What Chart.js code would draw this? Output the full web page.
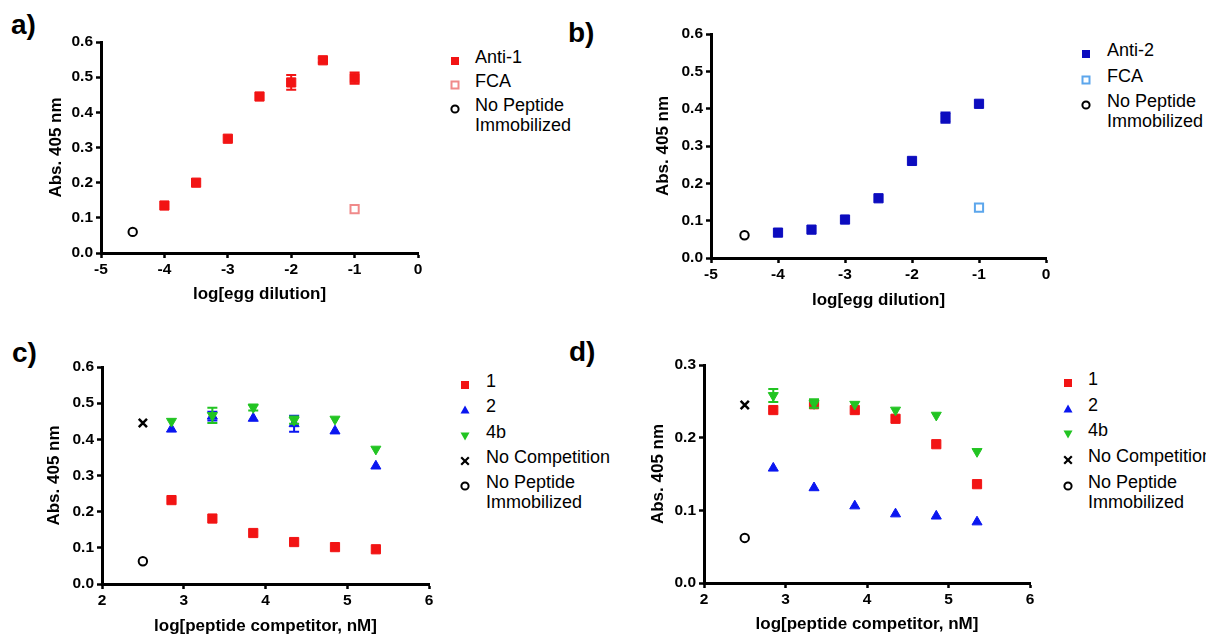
<!DOCTYPE html>
<html>
<head>
<meta charset="utf-8">
<script src="https://cdn.jsdelivr.net/npm/chart.js@4.4.1/dist/chart.umd.min.js"></script>
<style>
  body { margin: 0; background: #fff; }
  #page { position: relative; width: 1206px; height: 636px; overflow: hidden; font-family: "Liberation Sans", Arial, sans-serif; color: #000; }
  canvas { position: absolute; }
  .tag { position: absolute; font-size: 28px; font-weight: bold; line-height: 1; }
  .lg-mark { position: absolute; width: 10px; height: 10px; }
  .lg-text { position: absolute; font-size: 18px; line-height: 20px; white-space: nowrap; }
</style>
</head>
<body>
<div id="page">
  <div class="tag" style="left:11px; top:11px;">a)</div>
  <div class="tag" style="left:568px; top:19px;">b)</div>
  <div class="tag" style="left:12px; top:339px;">c)</div>
  <div class="tag" style="left:569px; top:338px;">d)</div>
  <canvas id="chartA"></canvas>
  <canvas id="chartB"></canvas>
  <canvas id="chartC"></canvas>
  <canvas id="chartD"></canvas>
</div>
<script>
// --- datos ---
const eggDilution = [-4, -3.5, -3, -2.5, -2, -1.5, -1];
const anti1 = [0.135, 0.200, 0.325, 0.445, 0.485, 0.548, 0.497];
const anti1Err = [0, 0, 0, 0, 0.021, 0.006, 0.016];
const anti2 = [0.068, 0.076, 0.103, 0.160, 0.260, 0.376, 0.413];
const anti2Err = [0, 0, 0, 0, 0, 0.014, 0];
const fcaX = [-1];
const fcaA = [0.125];
const fcaB = [0.135];
const noPeptideEggX = [-4.5];
const noPeptideA = [0.060];
const noPeptideB = [0.061];

const competitorLog = [2.85, 3.35, 3.85, 4.35, 4.85, 5.35];
const c1 = [0.232, 0.181, 0.141, 0.116, 0.102, 0.096];
const c2 = [0.428, 0.464, 0.458, 0.443, 0.423, 0.326];
const c2Err = [0, 0.012, 0, 0.022, 0, 0];
const c4b = [0.450, 0.466, 0.488, 0.453, 0.456, 0.373];
const c4bErr = [0, 0.021, 0.008, 0.010, 0, 0];
const noCompX = [2.5];
const cNoComp = [0.445];
const cNoPeptide = [0.063];

const d1 = [0.238, 0.246, 0.238, 0.226, 0.191, 0.136];
const d2 = [0.158, 0.131, 0.106, 0.095, 0.092, 0.084];
const d4b = [0.258, 0.247, 0.246, 0.238, 0.231, 0.181];
const d4bErr = [0.009, 0.006, 0, 0, 0, 0];
const dNoComp = [0.245];
const dNoPeptide = [0.062];

const eggTicks = [-5, -4, -3, -2, -1, 0];
const competitorTicks = [2, 3, 4, 5, 6];
const absTicks = [0, 0.1, 0.2, 0.3, 0.4, 0.5, 0.6];
const absTicksD = [0, 0.1, 0.2, 0.3];

// colores
const RED = '#f21414';
const RED_LIGHT = '#f08a8a';
const NAVY = '#0c0cbf';
const BLUE_LIGHT = '#5ca6ec';
const BLUE = '#0a16f0';
const GREEN = '#22c422';

const FONT = '"Liberation Sans", Arial, sans-serif';

// barras de error, dibujadas con las escalas del gráfico
const errorBars = {
  id: 'errorBars',
  afterDatasetDraw(chart, args) {
    const ds = chart.data.datasets[args.index];
    if (!ds.errors) return;
    const ctx = chart.ctx, sx = chart.scales.x, sy = chart.scales.y;
    ctx.save();
    ctx.strokeStyle = ds.pointBorderColor;
    ctx.lineWidth = 2;
    ds.data.forEach((p, i) => {
      const e = ds.errors[i];
      if (!e) return;
      const px = sx.getPixelForValue(p.x);
      const top = sy.getPixelForValue(p.y + e);
      const bot = sy.getPixelForValue(p.y - e);
      ctx.beginPath();
      ctx.moveTo(px, top); ctx.lineTo(px, bot);
      ctx.moveTo(px - 5, top); ctx.lineTo(px + 5, top);
      ctx.moveTo(px - 5, bot); ctx.lineTo(px + 5, bot);
      ctx.stroke();
    });
    ctx.restore();
  }
};

function series(label, xs, ys, shape, color, opts) {
  opts = opts || {};
  const filled = !opts.open;
  const ds = {
    label: label,
    data: xs.map((x, i) => ({ x: x, y: ys[i] })),
    showLine: false,
    pointStyle: shape,
    pointRadius: opts.r || 6.5,
    pointHoverRadius: opts.r || 6.5,
    pointRotation: opts.rot || 0,
    pointBackgroundColor: filled ? color : '#fff',
    pointBorderColor: color,
    pointBorderWidth: opts.bw || 1,
    order: opts.order || 0
  };
  if (opts.errors) ds.errors = opts.errors;
  return ds;
}

const noPeptideStyle = { open: true, r: 4.2, bw: 2 };
const crossStyle = { r: 5.8, bw: 2.5 };
const openSquare = { open: true, r: 5.8, bw: 2 };

function makeChart(id, box, datasets, xTicks, yTicks, xTitle) {
  const cv = document.getElementById(id);
  cv.width = box.w; cv.height = box.h;
  cv.style.left = box.left + 'px';
  cv.style.top = box.top + 'px';
  const tickFont = { family: FONT, size: 15.5, weight: 'bold' };
  const titleFont = { family: FONT, size: 17, weight: 'bold' };
  const grid = { display: true, drawOnChartArea: false, tickLength: 5, tickWidth: 2.5, tickColor: '#000' };
  const border = { display: true, color: '#000', width: 3 };
  new Chart(cv.getContext('2d'), {
    type: 'scatter',
    data: { datasets: datasets },
    options: {
      responsive: false,
      animation: false,
      events: [],
      layout: { padding: { left: box.padLeft, top: box.padTop, right: box.padRight, bottom: 0 } },
      plugins: { legend: { display: false }, tooltip: { enabled: false } },
      scales: {
        x: {
          type: 'linear',
          min: xTicks[0],
          max: xTicks[xTicks.length - 1],
          afterBuildTicks: s => { s.ticks = xTicks.map(v => ({ value: v })); },
          afterFit: s => { s.height = box.xH; },
          grid: grid,
          border: border,
          ticks: { color: '#000', font: tickFont, padding: 2, maxRotation: 0, callback: v => String(v) },
          title: { display: true, text: xTitle, color: '#000', padding: 0, font: titleFont }
        },
        y: {
          type: 'linear',
          min: yTicks[0],
          max: yTicks[yTicks.length - 1],
          afterBuildTicks: s => { s.ticks = yTicks.map(v => ({ value: v })); },
          afterFit: s => { s.width = box.yW; },
          grid: grid,
          border: border,
          ticks: { color: '#000', font: tickFont, padding: 3, callback: v => v.toFixed(1) },
          title: { display: true, text: 'Abs. 405 nm', color: '#000', padding: 0, font: titleFont }
        }
      }
    },
    plugins: [errorBars]
  });
}

// leyendas en HTML
function markerSvg(shape, color, open) {
  const fill = open ? '#fff' : color;
  let body = '';
  if (shape === 'rect') body = open
    ? `<rect x="1.5" y="1.5" width="7" height="7" fill="#fff" stroke="${color}" stroke-width="2"/>`
    : `<rect x="1" y="1" width="8" height="8" fill="${fill}"/>`;
  if (shape === 'up') body = `<polygon points="5,0.5 9.5,8.5 0.5,8.5" fill="${fill}"/>`;
  if (shape === 'down') body = `<polygon points="0.5,1.5 9.5,1.5 5,9.5" fill="${fill}"/>`;
  if (shape === 'cross') body = `<path d="M1.2,1.2 L8.8,8.8 M8.8,1.2 L1.2,8.8" stroke="${color}" stroke-width="2.2"/>`;
  if (shape === 'circle') body = `<circle cx="5" cy="5" r="3.6" fill="#fff" stroke="${color}" stroke-width="2"/>`;
  return `<svg width="10" height="10" viewBox="0 0 10 10">${body}</svg>`;
}

function makeLegend(pos, items) {
  const page = document.getElementById('page');
  items.forEach((it, i) => {
    const y = pos.y + i * pos.step;
    const m = document.createElement('div');
    m.className = 'lg-mark';
    m.style.left = (pos.mx - 5) + 'px';
    m.style.top = (y - 5) + 'px';
    m.innerHTML = markerSvg(it.shape, it.color, it.open);
    page.appendChild(m);
    const t = document.createElement('div');
    t.className = 'lg-text';
    t.style.left = pos.tx + 'px';
    t.style.top = (y - 10) + 'px';
    t.innerHTML = it.label.join('<br>');
    page.appendChild(t);
  });
}

// a)
makeChart('chartA', { left: 0, top: 0, w: 438, h: 305, padLeft: 46, padTop: 42, padRight: 20, yW: 55, xH: 52 }, [
  series('Anti-1', eggDilution, anti1, 'rect', RED, { errors: anti1Err }),
  series('FCA', fcaX, fcaA, 'rect', RED_LIGHT, openSquare),
  series('No Peptide Immobilized', noPeptideEggX, noPeptideA, 'circle', '#000', noPeptideStyle)
], eggTicks, absTicks, 'log[egg dilution]');

// b)
makeChart('chartB', { left: 640, top: 0, w: 426, h: 311, padLeft: 13, padTop: 34, padRight: 20, yW: 58, xH: 53 }, [
  series('Anti-2', eggDilution, anti2, 'rect', NAVY, { errors: anti2Err }),
  series('FCA', fcaX, fcaB, 'rect', BLUE_LIGHT, openSquare),
  series('No Peptide Immobilized', noPeptideEggX, noPeptideB, 'circle', '#000', noPeptideStyle)
], eggTicks, absTicks, 'log[egg dilution]');

// c)
makeChart('chartC', { left: 0, top: 320, w: 449, h: 317, padLeft: 44, padTop: 47, padRight: 20, yW: 58, xH: 53 }, [
  series('4b', competitorLog, c4b, 'triangle', GREEN, { r: 5.8, rot: 180, order: 1, errors: c4bErr }),
  series('2', competitorLog, c2, 'triangle', BLUE, { r: 5.8, order: 2, errors: c2Err }),
  series('1', competitorLog, c1, 'rect', RED, { order: 3 }),
  series('No Competition', noCompX, cNoComp, 'crossRot', '#000', crossStyle),
  series('No Peptide Immobilized', noCompX, cNoPeptide, 'circle', '#000', noPeptideStyle)
], competitorTicks, absTicks, 'log[peptide competitor, nM]');

// d)
makeChart('chartD', { left: 640, top: 320, w: 410, h: 315, padLeft: 8, padTop: 45, padRight: 20, yW: 56, xH: 52 }, [
  series('4b', competitorLog, d4b, 'triangle', GREEN, { r: 5.8, rot: 180, order: 1, errors: d4bErr }),
  series('1', competitorLog, d1, 'rect', RED, { order: 2 }),
  series('2', competitorLog, d2, 'triangle', BLUE, { r: 5.8, order: 3 }),
  series('No Competition', noCompX, dNoComp, 'crossRot', '#000', crossStyle),
  series('No Peptide Immobilized', noCompX, dNoPeptide, 'circle', '#000', noPeptideStyle)
], competitorTicks, absTicksD, 'log[peptide competitor, nM]');

makeLegend({ mx: 455, tx: 475, y: 57, step: 24 }, [
  { label: ['Anti-1'], shape: 'rect', color: RED },
  { label: ['FCA'], shape: 'rect', color: RED_LIGHT, open: true },
  { label: ['No Peptide', 'Immobilized'], shape: 'circle', color: '#000' }
]);
makeLegend({ mx: 1086, tx: 1107, y: 50, step: 25.5 }, [
  { label: ['Anti-2'], shape: 'rect', color: NAVY },
  { label: ['FCA'], shape: 'rect', color: BLUE_LIGHT, open: true },
  { label: ['No Peptide', 'Immobilized'], shape: 'circle', color: '#000' }
]);
const competitionLegend = [
  { label: ['1'], shape: 'rect', color: RED },
  { label: ['2'], shape: 'up', color: BLUE },
  { label: ['4b'], shape: 'down', color: GREEN },
  { label: ['No Competition'], shape: 'cross', color: '#000' },
  { label: ['No Peptide', 'Immobilized'], shape: 'circle', color: '#000' }
];
makeLegend({ mx: 465, tx: 486, y: 381, step: 25.3 }, competitionLegend);
makeLegend({ mx: 1068, tx: 1088, y: 379, step: 25.7 }, competitionLegend);
</script>
</body>
</html>
